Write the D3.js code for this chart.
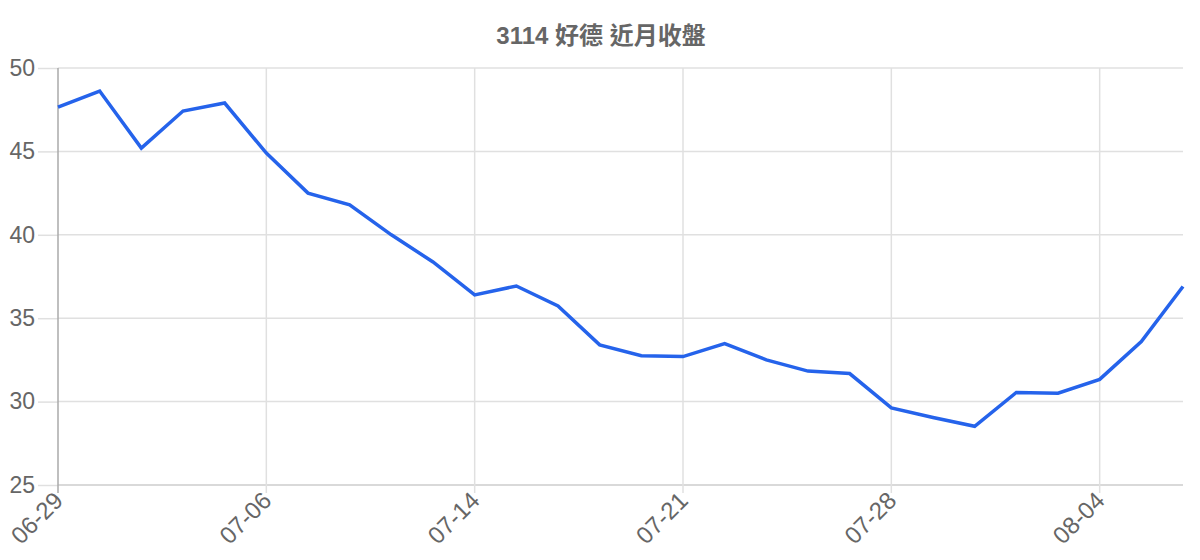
<!DOCTYPE html>
<html><head><meta charset="utf-8">
<script src="https://cdn.jsdelivr.net/npm/d3@7"></script>
<style>body{margin:0;background:#fff;}svg{display:block;}</style>
</head><body><svg id="c" width="1200" height="560"></svg>
<script>
const dates = ["06-29","06-30","07-01","07-02","07-03","07-06","07-07","07-08","07-09","07-10",
"07-14","07-15","07-16","07-17","07-20","07-21","07-22","07-23","07-24","07-27",
"07-28","07-29","07-30","07-31","08-03","08-04","08-05","08-06"];
const closes = [47.66,48.62,45.2,47.42,47.9,44.9,42.5,41.8,40.0,38.37,
36.4,36.93,35.73,33.4,32.75,32.7,33.48,32.5,31.83,31.68,
29.62,29.05,28.52,30.55,30.5,31.33,33.6,36.9];
const yTicks = [25,30,35,40,45,50];
const labelEvery = 5;
const title = "3114 好德 近月收盤";

const svg = d3.select("#c");
const m = {l:58, r:1183, t:68, b:485};
const x = d3.scaleLinear().domain([0, dates.length-1]).range([m.l, m.r]);
const y = d3.scaleLinear().domain([25,50]).range([m.b, m.t]);

svg.append("text").attr("x",601).attr("y",44).attr("text-anchor","middle")
  .attr("font-family","'Liberation Sans', Arial, 'Noto Sans CJK TC', sans-serif").attr("font-weight","bold")
  .attr("font-size",24).attr("fill","#666").text(title);

const gy = svg.append("g").attr("transform",`translate(${m.l},0)`)
  .call(d3.axisLeft(y).tickValues(yTicks).tickSize(20).tickPadding(3).tickFormat(d3.format("d")));
gy.select(".domain").remove();
gy.selectAll(".tick line").attr("stroke","#e0e0e0").attr("stroke-width",1.5);
gy.selectAll(".tick text").attr("font-family","'Liberation Sans', Arial, sans-serif").attr("font-size",23).attr("fill","#666");
svg.append("g").selectAll("line").data(yTicks).join("line")
  .attr("x1",m.l).attr("x2",m.r).attr("y1",d=>y(d)).attr("y2",d=>y(d))
  .attr("stroke",d=>d===25?"#cccccc":"#e0e0e0").attr("stroke-width",1.5);

const xt = d3.range(0, dates.length, labelEvery);
svg.append("g").selectAll("line").data(xt).join("line")
  .attr("x1",d=>x(d)).attr("x2",d=>x(d)).attr("y1",m.t).attr("y2",m.b+8)
  .attr("stroke",d=>d===0?"#aaaaaa":"#e0e0e0").attr("stroke-width",1.5);

const gx = svg.append("g").attr("transform",`translate(0,${m.b})`)
  .call(d3.axisBottom(x).tickValues(xt).tickSize(0).tickFormat(i=>dates[i]));
gx.select(".domain").remove();
gx.selectAll(".tick text").attr("font-family","'Liberation Sans', Arial, sans-serif").attr("font-size",24).attr("fill","#666")
  .attr("text-anchor","end").attr("dy",null).attr("y",0)
  .attr("transform","translate(6,17) rotate(-45)");

const line = d3.line().x((d,i)=>x(i)).y(d=>y(d));
svg.append("path").datum(closes).attr("d",line).attr("fill","none")
  .attr("stroke","#2563eb").attr("stroke-width",3.5).attr("stroke-linejoin","miter");
</script></body></html>
